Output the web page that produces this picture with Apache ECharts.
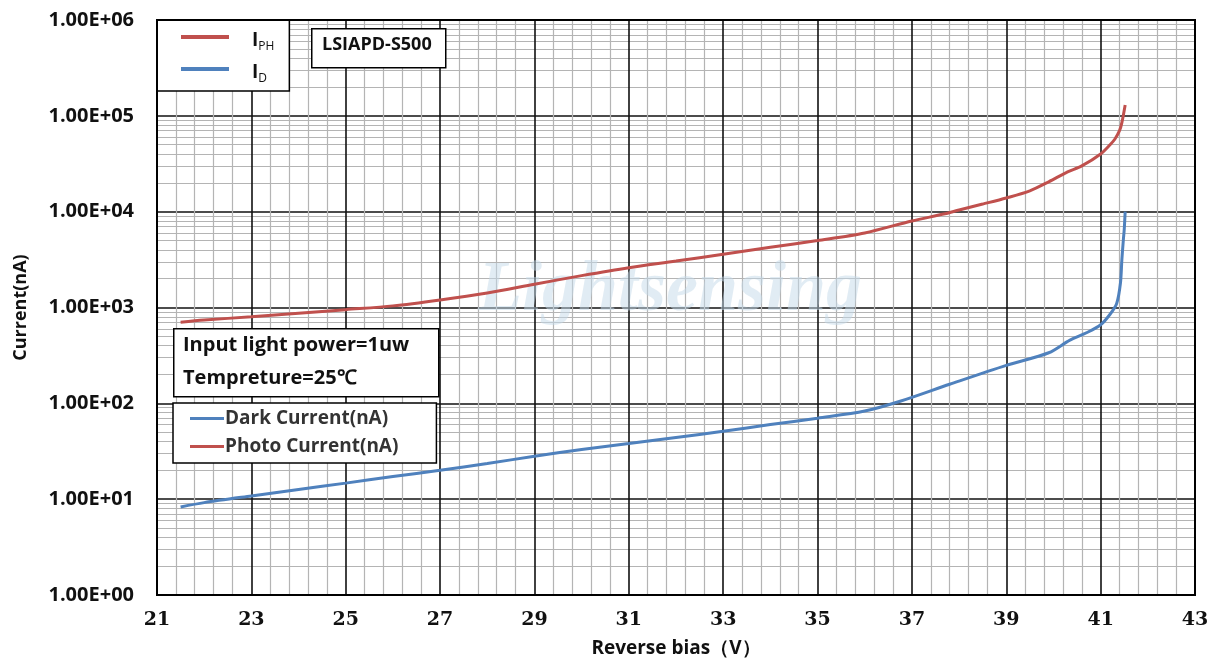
<!DOCTYPE html>
<html>
<head>
<meta charset="utf-8">
<script src="https://cdn.jsdelivr.net/npm/echarts@6/dist/echarts.min.js"></script>
<style>
html,body{margin:0;padding:0;background:#fff;}
#chart{width:1215px;height:663px;}
</style>
</head>
<body>
<div id="chart"></div>
<script>
// ---- data (reverse bias in V, current in nA) ----
const photoBias = [21.5,22,23,24,25,26,27,28,29,30,31,32,33,34,35,36,37,37.7,38,38.5,39,39.5,39.9,40.3,40.6,41,41.2,41.3,41.4,41.45,41.52];
const photoCurrent = [700,740,800,870,950,1040,1200,1420,1750,2150,2600,3050,3600,4250,5000,6000,8000,9500,10400,12000,13900,16500,20500,26000,30000,40000,50000,57000,70000,85000,130000];
const darkBias = [21.5,22,23,24,25,26,27,28,29,30,31,32,33,34,35,36,36.75,37.8,39,39.9,40.35,40.7,41,41.2,41.34,41.42,41.45,41.48,41.5,41.52];
const darkCurrent = [8.3,9.2,10.8,12.6,14.7,17.2,20,23.6,28,33,38,44,51,60,70,83,105,158,249,337,457,545,660,850,1100,1800,3160,5000,6500,10000];
const xTickLabels = ['21','23','25','27','29','31','33','35','37','39','41','43'];
const yTickLabels = ['1.00E+00','1.00E+01','1.00E+02','1.00E+03','1.00E+04','1.00E+05','1.00E+06'];
const minorMultipliers = [2,3,4,5,6,7,8,9];
const decades = [1,10,100,1000,10000,100000];

const RED = '#C0504D', BLUE = '#4F81BD';
const minorYLines = [];
decades.forEach(d => minorMultipliers.forEach(m => minorYLines.push({yAxis: d*m})));

const chart = echarts.init(document.getElementById('chart'));
const boldSans = '"Open Sans", "Liberation Sans", sans-serif';
chart.setOption({
  animation: false,
  backgroundColor: '#fff',
  grid: {left:157, right:20, top:20, bottom:67, show:true, borderColor:'#000', borderWidth:2, backgroundColor:'transparent', z:5},
  xAxis: [
    { // data axis (volts)
      type:'value', min:21, max:43, show:false
    },
    { // display axis
      type:'value', min:0, max:22, interval:2, position:'bottom',
      axisLine:{show:true, lineStyle:{color:'#000', width:2}},
      axisTick:{show:false},
      axisLabel:{formatter:(v)=>xTickLabels[Math.round(v/2)], color:'#111', fontFamily:'"DejaVu Serif", serif', fontWeight:'bold', fontSize:19, margin:16},
      splitLine:{show:true, lineStyle:{color:'#111', width:1.6}},
      minorTick:{show:false, splitNumber:5},
      minorSplitLine:{show:true, lineStyle:{color:'#b4b4b4', width:1.2}},
      name:'Reverse bias（V）', nameLocation:'middle', nameGap:44,
      nameTextStyle:{fontFamily:boldSans, fontWeight:'bold', fontSize:19, color:'#111'}
    }
  ],
  yAxis: {
    type:'log', logBase:10, min:1, max:1000000,
    axisLine:{show:true, lineStyle:{color:'#000', width:2}},
    axisTick:{show:false},
    axisLabel:{formatter:(v)=>yTickLabels[Math.round(Math.log10(v))], color:'#111', fontFamily:boldSans, fontWeight:'bold', fontSize:20, margin:23},
    splitLine:{show:true, lineStyle:{color:'#111', width:1.6}},
    name:'Current(nA)', nameLocation:'middle', nameGap:127, nameRotate:90,
    nameTextStyle:{fontFamily:boldSans, fontWeight:'bold', fontSize:18, color:'#111'}
  },
  legend: [
    {
      data:['Photo Current(nA)','Dark Current(nA)'],
      orient:'vertical', left:157, top:20,
      padding:[10,15,6,24], itemGap:9, itemWidth:48, itemHeight:4,
      backgroundColor:'#fff', borderColor:'#000', borderWidth:1.5,
      icon:'rect',
      formatter:(n)=> n.startsWith('Photo') ? '{b|I}{s|PH}' : '{b|I}{s|D}',
      textStyle:{
        padding:[0,0,0,18],
        rich:{
          b:{fontFamily:boldSans, fontWeight:'bold', fontSize:19, color:'#111', verticalAlign:'bottom', height:22, lineHeight:22},
          s:{fontFamily:boldSans, fontSize:12, color:'#111', verticalAlign:'bottom', padding:[0,0,-6,0], height:22, lineHeight:30}
        }
      }
    },
    {
      data:['Dark Current(nA)','Photo Current(nA)'],
      orient:'vertical', left:173, top:403,
      padding:[6,38,7,17], itemGap:9, itemWidth:34, itemHeight:3,
      backgroundColor:'#fff', borderColor:'#000', borderWidth:1.5,
      icon:'rect',
      textStyle:{fontFamily:boldSans, fontWeight:'bold', fontSize:19, color:'#333', padding:[0,0,0,-4]}
    }
  ],
  graphic: [
    {type:'text', left:478, top:255, z:1, silent:true,
      style:{text:'Lightsensing', font:'italic bold 72px "Liberation Serif", serif', fill:'rgba(195,218,234,0.5)'}},
    {type:'rect', left:311, top:28, z:100, shape:{width:134,height:39}, style:{fill:'#fff', stroke:'#000', lineWidth:1.5}},
    {type:'text', left:322, top:36, z:101, style:{text:'LSIAPD-S500', font:'bold 18px "Open Sans", sans-serif', fill:'#111'}},
    {type:'rect', left:173, top:328, z:100, shape:{width:265,height:68}, style:{fill:'#fff', stroke:'#000', lineWidth:1.5}},
    {type:'text', left:183, top:335, z:101, style:{text:'Input light power=1uw', font:'bold 20px "Open Sans", sans-serif', fill:'#111'}},
    {type:'text', left:183, top:368, z:101, style:{text:'Tempreture=25℃', font:'bold 20px "Open Sans", sans-serif', fill:'#111'}}
  ],
  series: [
    {name:'minor', type:'line', xAxisIndex:0, data:[], z:0, silent:true,
      markLine:{silent:true, z:-1, symbol:'none', label:{show:false}, animation:false,
        lineStyle:{color:'#b4b4b4', width:1.2, type:'solid'}, data:minorYLines}},
    {name:'Photo Current(nA)', type:'line', xAxisIndex:0, smooth:0.3, showSymbol:false, z:10,
      lineStyle:{color:RED, width:3}, itemStyle:{color:RED},
      data: photoBias.map((x,i)=>[x, photoCurrent[i]])},
    {name:'Dark Current(nA)', type:'line', xAxisIndex:0, smooth:0.3, showSymbol:false, z:10,
      lineStyle:{color:BLUE, width:3}, itemStyle:{color:BLUE},
      data: darkBias.map((x,i)=>[x, darkCurrent[i]])}
  ]
});
</script>
</body>
</html>
